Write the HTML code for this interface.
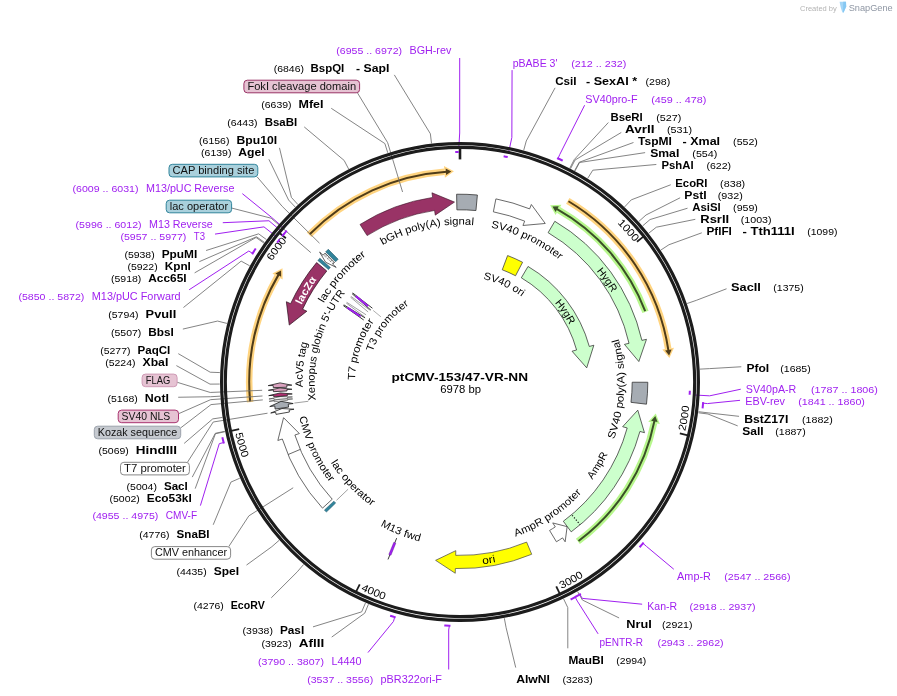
<!DOCTYPE html>
<html><head><meta charset="utf-8"><title>ptCMV-153/47-VR-NN</title>
<style>
html,body{margin:0;padding:0;background:#fff;}
body{width:897px;height:696px;overflow:hidden;}
svg{display:block;font-family:'Liberation Sans', sans-serif;will-change:transform;}
</style></head><body>
<svg width="897" height="696" viewBox="0 0 897 696">
<rect width="897" height="696" fill="#fff"/>
<defs>
<path id="p1" d="M 613 219.22 A 223.4 223.4 0 0 1 638.01 247.02"/>
<path id="p2" d="M 683.95 436.96 A 230.6 230.6 0 0 0 689.89 400.04"/>
<path id="p3" d="M 556.07 591.64 A 230.6 230.6 0 0 0 588.69 573.35"/>
<path id="p4" d="M 355.42 587.52 A 230.6 230.6 0 0 0 390.01 601.72"/>
<path id="p5" d="M 233.98 427.73 A 230.6 230.6 0 0 0 244.35 463.67"/>
<path id="p6" d="M 268.87 266.34 A 223.4 223.4 0 0 1 290.84 236.08"/>
<path id="p7" d="M 377.31 248.07 A 157.4 157.4 0 0 1 479.55 225.82"/>
<path id="p8" d="M 484.97 226.59 A 157.4 157.4 0 0 1 563.94 263.8"/>
<path id="p9" d="M 477.03 277.98 A 105.4 105.4 0 0 1 526.61 300.32"/>
<path id="p10" d="M 592.58 266.4 A 175.9 175.9 0 0 1 614.57 298.04"/>
<path id="p11" d="M 550.65 298.27 A 123.4 123.4 0 0 1 572.02 330.23"/>
<path id="p12" d="M 611.81 445.1 A 164.4 164.4 0 0 0 616.91 332.95"/>
<path id="p13" d="M 588.64 484.37 A 164.4 164.4 0 0 0 610.23 448.77"/>
<path id="p14" d="M 509.96 538.63 A 164.4 164.4 0 0 0 585.36 488.36"/>
<path id="p15" d="M 476.86 564.82 A 183.6 183.6 0 0 0 501.6 560.82"/>
<path id="p16" d="M 375.01 522.72 A 164.4 164.4 0 0 0 425.53 542.75"/>
<path id="p17" d="M 327.58 457.43 A 152.4 152.4 0 0 0 376.66 509.6"/>
<path id="p18" d="M 298.22 411.26 A 164.4 164.4 0 0 0 333.39 486.87"/>
<path id="p19" d="M 303 393.25 A 157.4 157.4 0 0 1 309.19 336.94"/>
<path id="p20" d="M 316.64 406.26 A 145.4 145.4 0 0 1 348.94 288.16"/>
<path id="p21" d="M 320.86 308.41 A 157.4 157.4 0 0 1 370.95 252.21"/>
<path id="p22" d="M 355.08 386.06 A 105 105 0 0 1 377.81 316.66"/>
<path id="p23" d="M 370.86 357.68 A 92.4 92.4 0 0 1 414.1 301.81"/>
<path id="p24" d="M 299.07 310.49 A 176.1 176.1 0 0 1 320.46 274.58"/>
</defs>
<polyline points="460,146 460,159.4" fill="none" stroke="#1e1e1e" stroke-width="2.6"/>
<polyline points="643.36,236.62 636.94,241.72" fill="none" stroke="#1e1e1e" stroke-width="1.8"/>
<text font-size="10.5" fill="#000"><textPath href="#p1" startOffset="6" textLength="25.44" lengthAdjust="spacingAndGlyphs">1000</textPath></text>
<polyline points="687.83,435.36 679.85,433.49" fill="none" stroke="#1e1e1e" stroke-width="1.8"/>
<text font-size="10.5" fill="#000"><textPath href="#p2" startOffset="6" textLength="25.44" lengthAdjust="spacingAndGlyphs">2000</textPath></text>
<polyline points="559.74,593.68 556.24,586.26" fill="none" stroke="#1e1e1e" stroke-width="1.8"/>
<text font-size="10.5" fill="#000"><textPath href="#p3" startOffset="6" textLength="25.44" lengthAdjust="spacingAndGlyphs">3000</textPath></text>
<polyline points="356.09,591.66 359.73,584.32" fill="none" stroke="#1e1e1e" stroke-width="1.8"/>
<text font-size="10.5" fill="#000"><textPath href="#p4" startOffset="6" textLength="25.44" lengthAdjust="spacingAndGlyphs">4000</textPath></text>
<polyline points="231.15,430.84 239.17,429.13" fill="none" stroke="#1e1e1e" stroke-width="1.8"/>
<text font-size="10.5" fill="#000"><textPath href="#p5" startOffset="6" textLength="25.44" lengthAdjust="spacingAndGlyphs">5000</textPath></text>
<polyline points="279.55,233.02 285.88,238.24" fill="none" stroke="#1e1e1e" stroke-width="1.8"/>
<text font-size="10.5" fill="#000"><textPath href="#p6" startOffset="6" textLength="25.44" lengthAdjust="spacingAndGlyphs">6000</textPath></text>
<path d="M 250.17 402.18 A 210.8 210.8 0 0 1 277.53 276.44" fill="none" stroke="#ffd480" stroke-width="6.6" stroke-linecap="butt"/>
<path d="M 282.64 279.4 L 282.47 268.33 L 272.43 273.49 Z" fill="#ffd480"/>
<path d="M 250.09 401.39 A 210.8 210.8 0 0 1 278.59 274.63" fill="none" stroke="#4f3c19" stroke-width="2.0"/>
<path d="M 281.13 276.82 L 281.08 270.53 L 275.44 273.48 Z" fill="#4f3c19"/>
<path d="M 309.11 234.8 A 210.8 210.8 0 0 1 444.44 171.78" fill="none" stroke="#ffd480" stroke-width="6.6" stroke-linecap="butt"/>
<path d="M 444.88 177.66 L 453.93 171.29 L 444 165.89 Z" fill="#ffd480"/>
<path d="M 309.67 234.23 A 210.8 210.8 0 0 1 446.54 171.63" fill="none" stroke="#4f3c19" stroke-width="2.0"/>
<path d="M 446.16 174.96 L 451.33 171.38 L 445.72 168.38 Z" fill="#4f3c19"/>
<path d="M 567.77 200.83 A 210.8 210.8 0 0 1 668.14 348.63" fill="none" stroke="#ffd480" stroke-width="6.6" stroke-linecap="butt"/>
<path d="M 662.32 349.56 L 669.43 358.04 L 673.97 347.7 Z" fill="#ffd480"/>
<path d="M 568.46 201.24 A 210.8 210.8 0 0 1 668.46 350.71" fill="none" stroke="#4f3c19" stroke-width="2.0"/>
<path d="M 665.11 350.61 L 669.12 355.46 L 671.64 349.61 Z" fill="#4f3c19"/>
<path d="M 558.49 209.88 A 198.3 198.3 0 0 1 645.48 311.86" fill="none" stroke="#b7f78c" stroke-width="6.6" stroke-linecap="butt"/>
<path d="M 555.55 215.01 L 550.13 205.37 L 561.42 204.76 Z" fill="#b7f78c"/>
<path d="M 556.66 208.85 A 198.3 198.3 0 0 1 645.2 311.11" fill="none" stroke="#3a4f27" stroke-width="2.0"/>
<path d="M 555.56 212.02 L 552.44 206.56 L 558.8 206.27 Z" fill="#3a4f27"/>
<path d="M 654.04 422.9 A 198.3 198.3 0 0 1 577.88 541.46" fill="none" stroke="#b7f78c" stroke-width="6.6" stroke-linecap="butt"/>
<path d="M 648.26 421.68 L 655.77 413.56 L 659.81 424.11 Z" fill="#b7f78c"/>
<path d="M 654.46 420.84 A 198.3 198.3 0 0 1 578.53 540.98" fill="none" stroke="#3a4f27" stroke-width="2.0"/>
<path d="M 651.11 420.77 L 655.34 416.12 L 657.57 422.09 Z" fill="#3a4f27"/>
<path d="M 367.09 235.59 A 173.4 173.4 0 0 1 434.55 210.48 L 435.24 215.13 L 454.49 202.08 L 431.93 192.77 L 432.62 197.42 A 186.6 186.6 0 0 0 360.02 224.45 Z" fill="#993366" stroke="#3a1226" stroke-width="0.6" stroke-linejoin="miter"/>
<path d="M 456.9 209.83 A 172.2 172.2 0 0 1 475.95 210.54 L 477.39 195.01 A 187.8 187.8 0 0 0 456.62 194.23 Z" fill="#a6acb3" stroke="#333" stroke-width="0.8"/>
<path d="M 493.36 211.84 A 173.4 173.4 0 0 1 524.69 221.12 L 522.94 225.48 L 545.26 223.47 L 531.37 204.51 L 529.62 208.87 A 186.6 186.6 0 0 0 495.9 198.89 Z" fill="#fff" stroke="#444" stroke-width="0.8" stroke-linejoin="miter"/>
<path d="M 548.12 232.66 A 173.4 173.4 0 0 1 629.03 343.31 L 624.45 344.36 L 638.83 361.54 L 646.48 339.32 L 641.9 340.37 A 186.6 186.6 0 0 0 554.82 221.29 Z" fill="#ccffcc" stroke="#222" stroke-width="0.7" stroke-linejoin="miter"/>
<path d="M 632.2 382.23 A 172.2 172.2 0 0 1 630.99 402.34 L 646.49 404.18 A 187.8 187.8 0 0 0 647.8 382.25 Z" fill="#a6acb3" stroke="#333" stroke-width="0.8"/>
<path d="M 563.33 521.25 A 173.4 173.4 0 0 0 627.2 427.96 L 622.67 426.71 L 637.78 410.17 L 644.46 432.7 L 639.93 431.45 A 186.6 186.6 0 0 1 571.2 531.85 Z" fill="#ccffcc" stroke="#222" stroke-width="0.7" stroke-linejoin="miter"/>
<path d="M 549.59 530.46 A 173.4 173.4 0 0 0 555.31 526.86 L 552.73 522.93 L 567.13 526.65 L 565.15 541.81 L 562.57 537.88 A 186.6 186.6 0 0 1 556.41 541.76 Z" fill="#fff" stroke="#444" stroke-width="0.8" stroke-linejoin="miter"/>
<polyline points="572.17,515.28 579.97,524.53" fill="none" stroke="#111" stroke-width="1.2" stroke-dasharray="1.2 1.7"/>
<path d="M 526.63 542.09 A 173.4 173.4 0 0 1 455.69 555.35 L 455.81 550.65 L 435.6 560.34 L 455.25 573.24 L 455.36 568.54 A 186.6 186.6 0 0 0 531.7 554.28 Z" fill="#ffff00" stroke="#444" stroke-width="0.7" stroke-linejoin="miter"/>
<polyline points="396.66,538.14 388.01,559.45" fill="none" stroke="#222" stroke-width="0.9"/>
<path d="M 395.79 543.18 A 173.5 173.5 0 0 1 393.77 542.36 L 388.8 554.38 A 186.5 186.5 0 0 0 390.98 555.26 Z" fill="#a020f0" stroke="#5a1090" stroke-width="0.4"/>
<path d="M 335.7 503.04 A 173.5 173.5 0 0 1 333.86 501.13 L 324.41 510.05 A 186.5 186.5 0 0 0 326.38 512.11 Z" fill="#31849b" stroke="#1f5566" stroke-width="0.5"/>
<path d="M 332.23 499.23 A 173.4 173.4 0 0 1 294.89 434.99 L 299.37 433.55 L 283.57 417.66 L 277.85 440.46 L 282.33 439.02 A 186.6 186.6 0 0 0 322.5 508.15 Z" fill="#fff" stroke="#444" stroke-width="0.8" stroke-linejoin="miter"/>
<polyline points="300.24,449.42 288.08,454.55" fill="none" stroke="#444" stroke-width="0.8"/>
<path d="M 326.78 271 A 173.4 173.4 0 0 0 302.6 309.24 L 306.87 311.21 L 289.25 325.05 L 286.36 301.73 L 290.62 303.7 A 186.6 186.6 0 0 1 316.64 262.55 Z" fill="#993366" stroke="#2a0c1b" stroke-width="0.7" stroke-linejoin="miter"/>
<polygon points="289.42,412.02 289.08,410.02 294.02,409.21 281.97,408.56 270.73,413.03 275.66,412.22 276.03,414.38" fill="#ffffff" stroke="#1c1c1c" stroke-width="0.8" stroke-linejoin="miter"/>
<polygon points="288.63,407.1 288.23,404.18 293.18,403.54 281.04,401.33 269.78,406.56 274.74,405.92 275.17,409.07" fill="#a6acb3" stroke="#1c1c1c" stroke-width="0.8" stroke-linejoin="miter"/>
<polygon points="287.77,400.29 287.68,399.45 292.66,398.95 280.81,399.07 269.18,401.33 274.15,400.82 274.24,401.73" fill="#ffffff" stroke="#1c1c1c" stroke-width="0.5" stroke-linejoin="miter"/>
<polygon points="287.58,398.43 287.48,397.38 292.46,396.94 280.6,396.65 268.96,399.03 273.94,398.59 274.04,399.72" fill="#ffffff" stroke="#1c1c1c" stroke-width="0.5" stroke-linejoin="miter"/>
<polygon points="287.35,395.79 287.24,394.32 292.23,393.96 280.33,392.93 268.69,395.64 273.67,395.28 273.79,396.87" fill="#b03070" stroke="#1c1c1c" stroke-width="0.8" stroke-linejoin="miter"/>
<polygon points="287.03,390.96 286.96,389.49 291.96,389.27 280.1,387.91 268.38,390.3 273.37,390.08 273.45,391.67" fill="#dba3c0" stroke="#1c1c1c" stroke-width="0.8" stroke-linejoin="miter"/>
<polygon points="286.88,387.22 286.83,385.26 291.83,385.17 280,382.89 268.23,385.61 273.23,385.52 273.28,387.63" fill="#dba3c0" stroke="#1c1c1c" stroke-width="0.8" stroke-linejoin="miter"/>
<path d="M 328.5 269.59 A 173 173 0 0 1 330.34 267.47 L 319.84 258.2 A 187 187 0 0 0 317.86 260.49 Z" fill="#31849b" stroke="#1f5566" stroke-width="0.6"/>
<polygon points="334.58,262.26 332.75,264.21 336.2,267.4 325.63,262.23 319.61,252.05 323.06,255.24 325.03,253.15" fill="#ffffff" stroke="#222" stroke-width="0.7" stroke-linejoin="miter"/>
<polyline points="332.64,263.45 323.86,255.27" fill="none" stroke="#222" stroke-width="0.8" stroke-dasharray="1 1.2"/>
<polyline points="333.5,262.53 324.77,254.29" fill="none" stroke="#222" stroke-width="0.8" stroke-dasharray="1 1.2"/>
<path d="M 335.73 261.64 A 173 173 0 0 1 338.14 259.2 L 328.28 249.27 A 187 187 0 0 0 325.67 251.9 Z" fill="#31849b" stroke="#1f5566" stroke-width="0.6"/>
<path d="M 502.26 269.79 A 119.9 119.9 0 0 1 515.55 275.75 L 522.59 262.28 A 135.1 135.1 0 0 0 507.61 255.57 Z" fill="#ffff00" stroke="#444" stroke-width="0.8"/>
<path d="M 521.34 277.82 A 120.9 120.9 0 0 1 576.58 349.98 L 572.05 351.22 L 586.71 367.85 L 593.84 345.24 L 589.31 346.48 A 134.1 134.1 0 0 0 528.04 266.44 Z" fill="#ccffcc" stroke="#222" stroke-width="0.7" stroke-linejoin="miter"/>
<polyline points="364.62,316.86 346.23,303.02" fill="none" stroke="#555" stroke-width="0.55"/>
<polyline points="366.05,314.81 346.74,302.29" fill="none" stroke="#555" stroke-width="0.55"/>
<polyline points="363.74,320 343.3,305.58" fill="none" stroke="#111" stroke-width="0.85"/>
<polyline points="365.1,317.93 343.79,304.82" fill="none" stroke="#111" stroke-width="0.85"/>
<polyline points="360.66,316.48 347.3,307.68" fill="none" stroke="#a020f0" stroke-width="2"/>
<polyline points="368.15,311.97 350.5,297.19" fill="none" stroke="#555" stroke-width="0.55"/>
<polyline points="369.69,310 351.06,296.48" fill="none" stroke="#555" stroke-width="0.55"/>
<polyline points="370.86,310.14 352.06,293.63" fill="none" stroke="#111" stroke-width="0.85"/>
<polyline points="372.43,308.23 352.64,292.93" fill="none" stroke="#111" stroke-width="0.85"/>
<polyline points="368.17,306.32 355.82,296.14" fill="none" stroke="#a020f0" stroke-width="2"/>
<polyline points="373.18,310.45 380.9,316.81" fill="none" stroke="#777" stroke-width="0.6"/>
<polyline points="294.33,403.07 308.22,401.3" fill="none" stroke="#777" stroke-width="0.7"/>
<polyline points="336.53,500.3 348.08,489.23" fill="none" stroke="#777" stroke-width="0.7"/>
<text font-size="10.5" fill="#000"><textPath href="#p7" startOffset="6" textLength="94.67" lengthAdjust="spacingAndGlyphs">bGH poly(A) signal</textPath></text>
<text font-size="10.5" fill="#000"><textPath href="#p8" startOffset="6" textLength="76.46" lengthAdjust="spacingAndGlyphs">SV40 promoter</textPath></text>
<text font-size="10.5" fill="#000"><textPath href="#p9" startOffset="6" textLength="43" lengthAdjust="spacingAndGlyphs">SV40 ori</textPath></text>
<text font-size="10.5" fill="#000"><textPath href="#p10" startOffset="6" textLength="26.61" lengthAdjust="spacingAndGlyphs">HygR</textPath></text>
<text font-size="10.5" fill="#000"><textPath href="#p11" startOffset="6" textLength="26.61" lengthAdjust="spacingAndGlyphs">HygR</textPath></text>
<text font-size="10.5" fill="#000"><textPath href="#p12" startOffset="6" textLength="102.57" lengthAdjust="spacingAndGlyphs">SV40 poly(A) signal</textPath></text>
<text font-size="10.5" fill="#000"><textPath href="#p13" startOffset="6" textLength="29.75" lengthAdjust="spacingAndGlyphs">AmpR</textPath></text>
<text font-size="10.5" fill="#000"><textPath href="#p14" startOffset="6" textLength="79.81" lengthAdjust="spacingAndGlyphs">AmpR promoter</textPath></text>
<text font-size="10.5" fill="#000"><textPath href="#p15" startOffset="6" textLength="13.08" lengthAdjust="spacingAndGlyphs">ori</textPath></text>
<text font-size="10.5" fill="#000"><textPath href="#p16" startOffset="6" textLength="42.6" lengthAdjust="spacingAndGlyphs">M13 fwd</textPath></text>
<text font-size="10.5" fill="#000"><textPath href="#p17" startOffset="6" textLength="60.3" lengthAdjust="spacingAndGlyphs">lac operator</textPath></text>
<text font-size="10.5" fill="#000"><textPath href="#p18" startOffset="6" textLength="72.31" lengthAdjust="spacingAndGlyphs">CMV promoter</textPath></text>
<text font-size="10.5" fill="#000"><textPath href="#p19" startOffset="6" textLength="44.95" lengthAdjust="spacingAndGlyphs">AcV5 tag</textPath></text>
<text font-size="10.5" fill="#000"><textPath href="#p20" startOffset="6" textLength="114.38" lengthAdjust="spacingAndGlyphs">Xenopus globin 5'-UTR</textPath></text>
<text font-size="10.5" fill="#000"><textPath href="#p21" startOffset="6" textLength="64.02" lengthAdjust="spacingAndGlyphs">lac promoter</textPath></text>
<text font-size="10.5" fill="#000"><textPath href="#p22" startOffset="6" textLength="62.58" lengthAdjust="spacingAndGlyphs">T7 promoter</textPath></text>
<text font-size="10.5" fill="#000"><textPath href="#p23" startOffset="6" textLength="60.5" lengthAdjust="spacingAndGlyphs">T3 promoter</textPath></text>
<text font-size="10.5" font-weight="bold" fill="#fff"><textPath href="#p24" startOffset="6" textLength="29.89" lengthAdjust="spacingAndGlyphs">lacZα</textPath></text>
<text x="391.5" y="381.2" font-size="11.55" font-weight="bold" fill="#000" textLength="136.5" lengthAdjust="spacingAndGlyphs">ptCMV-153/47-VR-NN</text>
<text x="440.2" y="393.2" font-size="10.5" fill="#000" textLength="40.8" lengthAdjust="spacingAndGlyphs">6978 bp</text>
<text x="555.2" y="84.8" font-size="10.5" font-weight="bold" fill="#000" textLength="21.4" lengthAdjust="spacingAndGlyphs">CsiI</text>
<text x="586" y="84.8" font-size="10.5" font-weight="bold" fill="#000" textLength="51.1" lengthAdjust="spacingAndGlyphs">- SexAI *</text>
<text x="645.5" y="84.8" font-size="8.93" fill="#000" textLength="24.7" lengthAdjust="spacingAndGlyphs">(298)</text>
<polyline points="555.08,87.83 526.28,140.95 523.71,150.3" fill="none" stroke="#6e6e6e" stroke-width="0.85"/>
<text x="610.4" y="120.9" font-size="10.5" font-weight="bold" fill="#000" textLength="32.4" lengthAdjust="spacingAndGlyphs">BseRI</text>
<text x="656.2" y="120.9" font-size="8.93" fill="#000" textLength="25.1" lengthAdjust="spacingAndGlyphs">(527)</text>
<polyline points="608.33,122.54 574.23,159.62 569.8,168.25" fill="none" stroke="#6e6e6e" stroke-width="0.85"/>
<text x="625.1" y="133" font-size="10.5" font-weight="bold" fill="#000" textLength="29.4" lengthAdjust="spacingAndGlyphs">AvrII</text>
<text x="666.9" y="133" font-size="8.93" fill="#000" textLength="25.1" lengthAdjust="spacingAndGlyphs">(531)</text>
<polyline points="621.27,132.47 575.03,160.04 570.57,168.65" fill="none" stroke="#6e6e6e" stroke-width="0.85"/>
<text x="638.1" y="144.7" font-size="10.5" font-weight="bold" fill="#000" textLength="33.8" lengthAdjust="spacingAndGlyphs">TspMI</text>
<text x="682.6" y="144.7" font-size="10.5" font-weight="bold" fill="#000" textLength="37.5" lengthAdjust="spacingAndGlyphs">- XmaI</text>
<text x="733.1" y="144.7" font-size="8.93" fill="#000" textLength="24.8" lengthAdjust="spacingAndGlyphs">(552)</text>
<polyline points="633.48,142.51 579.21,162.25 574.58,170.78" fill="none" stroke="#6e6e6e" stroke-width="0.85"/>
<text x="650.2" y="156.7" font-size="10.5" font-weight="bold" fill="#000" textLength="29.1" lengthAdjust="spacingAndGlyphs">SmaI</text>
<text x="692.3" y="156.7" font-size="8.93" fill="#000" textLength="25.1" lengthAdjust="spacingAndGlyphs">(554)</text>
<polyline points="645.11,152.64 579.6,162.47 574.96,170.98" fill="none" stroke="#6e6e6e" stroke-width="0.85"/>
<text x="661.5" y="169.1" font-size="10.5" font-weight="bold" fill="#000" textLength="32.1" lengthAdjust="spacingAndGlyphs">PshAI</text>
<text x="706.4" y="169.1" font-size="8.93" fill="#000" textLength="24.7" lengthAdjust="spacingAndGlyphs">(622)</text>
<polyline points="656.34,164.47 592.81,170.2 587.66,178.41" fill="none" stroke="#6e6e6e" stroke-width="0.85"/>
<text x="675.3" y="186.8" font-size="10.5" font-weight="bold" fill="#000" textLength="32.1" lengthAdjust="spacingAndGlyphs">EcoRI</text>
<text x="720.1" y="186.8" font-size="8.93" fill="#000" textLength="25.1" lengthAdjust="spacingAndGlyphs">(838)</text>
<polyline points="670.74,184.76 631.24,199.86 624.6,206.92" fill="none" stroke="#6e6e6e" stroke-width="0.85"/>
<text x="684.3" y="198.9" font-size="10.5" font-weight="bold" fill="#000" textLength="22.4" lengthAdjust="spacingAndGlyphs">PstI</text>
<text x="717.7" y="198.9" font-size="8.93" fill="#000" textLength="25.1" lengthAdjust="spacingAndGlyphs">(932)</text>
<polyline points="680.14,197.77 646.03,214.99 638.81,221.47" fill="none" stroke="#6e6e6e" stroke-width="0.85"/>
<text x="692.3" y="210.9" font-size="10.5" font-weight="bold" fill="#000" textLength="28.4" lengthAdjust="spacingAndGlyphs">AsiSI</text>
<text x="733.1" y="210.9" font-size="8.93" fill="#000" textLength="24.8" lengthAdjust="spacingAndGlyphs">(959)</text>
<polyline points="687.52,208.21 650.03,219.56 642.66,225.86" fill="none" stroke="#6e6e6e" stroke-width="0.85"/>
<text x="700.3" y="222.9" font-size="10.5" font-weight="bold" fill="#000" textLength="28.8" lengthAdjust="spacingAndGlyphs">RsrII</text>
<text x="740.8" y="222.9" font-size="8.93" fill="#000" textLength="30.8" lengthAdjust="spacingAndGlyphs">(1003)</text>
<polyline points="695.29,219.32 656.32,227.21 648.7,233.22" fill="none" stroke="#6e6e6e" stroke-width="0.85"/>
<text x="706.4" y="235" font-size="10.5" font-weight="bold" fill="#000" textLength="25.5" lengthAdjust="spacingAndGlyphs">PflFI</text>
<text x="742.5" y="235" font-size="10.5" font-weight="bold" fill="#000" textLength="52.2" lengthAdjust="spacingAndGlyphs">- Tth111I</text>
<text x="807.3" y="235" font-size="8.93" fill="#000" textLength="30.1" lengthAdjust="spacingAndGlyphs">(1099)</text>
<polyline points="701.78,232.81 668.95,244.74 660.84,250.06" fill="none" stroke="#6e6e6e" stroke-width="0.85"/>
<text x="731.1" y="290.8" font-size="10.5" font-weight="bold" fill="#000" textLength="29.8" lengthAdjust="spacingAndGlyphs">SacII</text>
<text x="773.3" y="290.8" font-size="8.93" fill="#000" textLength="30.4" lengthAdjust="spacingAndGlyphs">(1375)</text>
<polyline points="726.54,288.77 696.29,300.35 687.12,303.52" fill="none" stroke="#6e6e6e" stroke-width="0.85"/>
<text x="746.5" y="371.7" font-size="10.5" font-weight="bold" fill="#000" textLength="22.7" lengthAdjust="spacingAndGlyphs">PfoI</text>
<text x="780.3" y="371.7" font-size="8.93" fill="#000" textLength="30.4" lengthAdjust="spacingAndGlyphs">(1685)</text>
<polyline points="741.32,366.76 709.64,368.61 699.96,369.13" fill="none" stroke="#6e6e6e" stroke-width="0.85"/>
<text x="744.2" y="422.9" font-size="10.5" font-weight="bold" fill="#000" textLength="44.1" lengthAdjust="spacingAndGlyphs">BstZ17I</text>
<text x="802" y="422.9" font-size="8.93" fill="#000" textLength="30.8" lengthAdjust="spacingAndGlyphs">(1882)</text>
<polyline points="739.06,416.33 708.09,412.87 698.46,411.68" fill="none" stroke="#6e6e6e" stroke-width="0.85"/>
<text x="742.2" y="435" font-size="10.5" font-weight="bold" fill="#000" textLength="21.4" lengthAdjust="spacingAndGlyphs">SalI</text>
<text x="775.3" y="435" font-size="8.93" fill="#000" textLength="30.4" lengthAdjust="spacingAndGlyphs">(1887)</text>
<polyline points="737.69,425.9 707.94,413.99 698.32,412.75" fill="none" stroke="#6e6e6e" stroke-width="0.85"/>
<text x="626.3" y="627.7" font-size="10.5" font-weight="bold" fill="#000" textLength="25.4" lengthAdjust="spacingAndGlyphs">NruI</text>
<text x="662" y="627.7" font-size="8.93" fill="#000" textLength="30.5" lengthAdjust="spacingAndGlyphs">(2921)</text>
<polyline points="619.08,617.94 582.36,600.01 577.61,591.55" fill="none" stroke="#6e6e6e" stroke-width="0.85"/>
<text x="568.4" y="663.5" font-size="10.5" font-weight="bold" fill="#000" textLength="35.4" lengthAdjust="spacingAndGlyphs">MauBI</text>
<text x="616.2" y="663.5" font-size="8.93" fill="#000" textLength="30.1" lengthAdjust="spacingAndGlyphs">(2994)</text>
<polyline points="567.8,648.3 567.78,607.58 563.59,598.82" fill="none" stroke="#6e6e6e" stroke-width="0.85"/>
<text x="516.2" y="682.5" font-size="10.5" font-weight="bold" fill="#000" textLength="33.8" lengthAdjust="spacingAndGlyphs">AlwNI</text>
<text x="562.4" y="682.5" font-size="8.93" fill="#000" textLength="30.4" lengthAdjust="spacingAndGlyphs">(3283)</text>
<polyline points="515.72,667.57 506.11,627.71 504.32,618.18" fill="none" stroke="#6e6e6e" stroke-width="0.85"/>
<text x="273.7" y="71.8" font-size="8.93" fill="#000" textLength="30.3" lengthAdjust="spacingAndGlyphs">(6846)</text>
<text x="310.5" y="71.8" font-size="10.5" font-weight="bold" fill="#000" textLength="33.8" lengthAdjust="spacingAndGlyphs">BspQI</text>
<text x="356" y="71.8" font-size="10.5" font-weight="bold" fill="#000" textLength="33.4" lengthAdjust="spacingAndGlyphs">- SapI</text>
<polyline points="394.34,74.89 430.36,133.76 431.51,143.4" fill="none" stroke="#6e6e6e" stroke-width="0.85"/>
<text x="261.3" y="107.9" font-size="8.93" fill="#000" textLength="30.3" lengthAdjust="spacingAndGlyphs">(6639)</text>
<text x="298.5" y="107.9" font-size="10.5" font-weight="bold" fill="#000" textLength="25" lengthAdjust="spacingAndGlyphs">MfeI</text>
<polyline points="331.24,108.29 384.87,143.56 387.78,152.81" fill="none" stroke="#6e6e6e" stroke-width="0.85"/>
<text x="227.2" y="125.7" font-size="8.93" fill="#000" textLength="30.3" lengthAdjust="spacingAndGlyphs">(6443)</text>
<text x="264.7" y="125.7" font-size="10.5" font-weight="bold" fill="#000" textLength="32.4" lengthAdjust="spacingAndGlyphs">BsaBI</text>
<polyline points="304.22,126.92 344.17,160.45 348.67,169.05" fill="none" stroke="#6e6e6e" stroke-width="0.85"/>
<text x="199.1" y="143.7" font-size="8.93" fill="#000" textLength="30.3" lengthAdjust="spacingAndGlyphs">(6156)</text>
<text x="236.6" y="143.7" font-size="10.5" font-weight="bold" fill="#000" textLength="40.5" lengthAdjust="spacingAndGlyphs">Bpu10I</text>
<polyline points="279.48,147.85 291.4,197.41 297.94,204.57" fill="none" stroke="#6e6e6e" stroke-width="0.85"/>
<text x="201.1" y="155.8" font-size="8.93" fill="#000" textLength="30.3" lengthAdjust="spacingAndGlyphs">(6139)</text>
<text x="238.3" y="155.8" font-size="10.5" font-weight="bold" fill="#000" textLength="26.4" lengthAdjust="spacingAndGlyphs">AgeI</text>
<polyline points="268.88,159.31 288.59,200.01 295.24,207.07" fill="none" stroke="#6e6e6e" stroke-width="0.85"/>
<text x="124.4" y="257.7" font-size="8.93" fill="#000" textLength="30.3" lengthAdjust="spacingAndGlyphs">(5938)</text>
<text x="161.7" y="257.7" font-size="10.5" font-weight="bold" fill="#000" textLength="35.6" lengthAdjust="spacingAndGlyphs">PpuMI</text>
<polyline points="206.08,250.51 258.64,233.84 266.45,239.58" fill="none" stroke="#6e6e6e" stroke-width="0.85"/>
<text x="127.4" y="269.7" font-size="8.93" fill="#000" textLength="30.3" lengthAdjust="spacingAndGlyphs">(5922)</text>
<text x="164.7" y="269.7" font-size="10.5" font-weight="bold" fill="#000" textLength="26.2" lengthAdjust="spacingAndGlyphs">KpnI</text>
<polyline points="199.36,261.65 256.52,236.75 264.42,242.39" fill="none" stroke="#6e6e6e" stroke-width="0.85"/>
<text x="111" y="281.8" font-size="8.93" fill="#000" textLength="30.3" lengthAdjust="spacingAndGlyphs">(5918)</text>
<text x="148.3" y="281.8" font-size="10.5" font-weight="bold" fill="#000" textLength="38.3" lengthAdjust="spacingAndGlyphs">Acc65I</text>
<polyline points="194.61,272.86 256,237.49 263.92,243.09" fill="none" stroke="#6e6e6e" stroke-width="0.85"/>
<text x="108.3" y="317.6" font-size="8.93" fill="#000" textLength="30.3" lengthAdjust="spacingAndGlyphs">(5794)</text>
<text x="145.6" y="317.6" font-size="10.5" font-weight="bold" fill="#000" textLength="30.6" lengthAdjust="spacingAndGlyphs">PvuII</text>
<polyline points="183.44,307.52 241.17,261.12 249.66,265.81" fill="none" stroke="#6e6e6e" stroke-width="0.85"/>
<text x="111" y="335.6" font-size="8.93" fill="#000" textLength="30.3" lengthAdjust="spacingAndGlyphs">(5507)</text>
<text x="148.3" y="335.6" font-size="10.5" font-weight="bold" fill="#000" textLength="25.6" lengthAdjust="spacingAndGlyphs">BbsI</text>
<polyline points="182.87,329.09 217.54,321.05 226.95,323.42" fill="none" stroke="#6e6e6e" stroke-width="0.85"/>
<text x="100.2" y="353.7" font-size="8.93" fill="#000" textLength="30.3" lengthAdjust="spacingAndGlyphs">(5277)</text>
<text x="137.5" y="353.7" font-size="10.5" font-weight="bold" fill="#000" textLength="32.8" lengthAdjust="spacingAndGlyphs">PaqCI</text>
<polyline points="178.29,353.67 210.19,372.21 219.88,372.59" fill="none" stroke="#6e6e6e" stroke-width="0.85"/>
<text x="105.2" y="365.8" font-size="8.93" fill="#000" textLength="30.3" lengthAdjust="spacingAndGlyphs">(5224)</text>
<text x="142.5" y="365.8" font-size="10.5" font-weight="bold" fill="#000" textLength="25.8" lengthAdjust="spacingAndGlyphs">XbaI</text>
<polyline points="176.39,365.6 210.01,384.14 219.71,384.06" fill="none" stroke="#6e6e6e" stroke-width="0.85"/>
<text x="107.5" y="401.9" font-size="8.93" fill="#000" textLength="30.3" lengthAdjust="spacingAndGlyphs">(5168)</text>
<text x="144.8" y="401.9" font-size="10.5" font-weight="bold" fill="#000" textLength="24.2" lengthAdjust="spacingAndGlyphs">NotI</text>
<polyline points="178.2,397.26 210.43,396.74 220.12,396.16" fill="none" stroke="#6e6e6e" stroke-width="0.85"/>
<text x="98.5" y="453.7" font-size="8.93" fill="#000" textLength="30.3" lengthAdjust="spacingAndGlyphs">(5069)</text>
<text x="135.8" y="453.7" font-size="10.5" font-weight="bold" fill="#000" textLength="41.3" lengthAdjust="spacingAndGlyphs">HindIII</text>
<polyline points="184.16,443.41 212.74,418.89 222.33,417.46" fill="none" stroke="#6e6e6e" stroke-width="0.85"/>
<text x="126.6" y="489.5" font-size="8.93" fill="#000" textLength="30.3" lengthAdjust="spacingAndGlyphs">(5004)</text>
<text x="163.9" y="489.5" font-size="10.5" font-weight="bold" fill="#000" textLength="23.9" lengthAdjust="spacingAndGlyphs">SacI</text>
<polyline points="192.25,477.12 215.32,433.3 224.81,431.3" fill="none" stroke="#6e6e6e" stroke-width="0.85"/>
<text x="109.5" y="501.5" font-size="8.93" fill="#000" textLength="30.3" lengthAdjust="spacingAndGlyphs">(5002)</text>
<text x="146.8" y="501.5" font-size="10.5" font-weight="bold" fill="#000" textLength="45" lengthAdjust="spacingAndGlyphs">Eco53kI</text>
<polyline points="195.18,488.65 215.41,433.74 224.9,431.73" fill="none" stroke="#6e6e6e" stroke-width="0.85"/>
<text x="139.3" y="537.5" font-size="8.93" fill="#000" textLength="30.3" lengthAdjust="spacingAndGlyphs">(4776)</text>
<text x="176.6" y="537.5" font-size="10.5" font-weight="bold" fill="#000" textLength="32.9" lengthAdjust="spacingAndGlyphs">SnaBI</text>
<polyline points="213.21,524.78 230.91,482.1 239.8,478.21" fill="none" stroke="#6e6e6e" stroke-width="0.85"/>
<text x="176.4" y="574.8" font-size="8.93" fill="#000" textLength="30.3" lengthAdjust="spacingAndGlyphs">(4435)</text>
<text x="213.7" y="574.8" font-size="10.5" font-weight="bold" fill="#000" textLength="25.3" lengthAdjust="spacingAndGlyphs">SpeI</text>
<polyline points="246.5,565.07 271.88,546.66 279.18,540.27" fill="none" stroke="#6e6e6e" stroke-width="0.85"/>
<text x="193.5" y="608.6" font-size="8.93" fill="#000" textLength="30.3" lengthAdjust="spacingAndGlyphs">(4276)</text>
<text x="230.8" y="608.6" font-size="10.5" font-weight="bold" fill="#000" textLength="33.9" lengthAdjust="spacingAndGlyphs">EcoRV</text>
<polyline points="271.29,597.81 297.3,571.81 303.61,564.45" fill="none" stroke="#6e6e6e" stroke-width="0.85"/>
<text x="242.6" y="634" font-size="8.93" fill="#000" textLength="30.3" lengthAdjust="spacingAndGlyphs">(3938)</text>
<text x="279.9" y="634" font-size="10.5" font-weight="bold" fill="#000" textLength="24.3" lengthAdjust="spacingAndGlyphs">PasI</text>
<polyline points="313,626.87 361.66,611.85 365.47,602.93" fill="none" stroke="#6e6e6e" stroke-width="0.85"/>
<text x="261.4" y="646.8" font-size="8.93" fill="#000" textLength="30.3" lengthAdjust="spacingAndGlyphs">(3923)</text>
<text x="298.7" y="646.8" font-size="10.5" font-weight="bold" fill="#000" textLength="25.5" lengthAdjust="spacingAndGlyphs">AflII</text>
<polyline points="331.71,637.08 364.77,613.15 368.47,604.18" fill="none" stroke="#6e6e6e" stroke-width="0.85"/>
<text x="512.7" y="67.1" font-size="10.5" fill="#a020f0" textLength="44.8" lengthAdjust="spacingAndGlyphs">pBABE 3'</text>
<text x="571.2" y="67.1" font-size="8.93" fill="#a020f0" textLength="55.2" lengthAdjust="spacingAndGlyphs">(212 .. 232)</text>
<polyline points="512.07,70.1 511.85,137.44 508.42,153.58" fill="none" stroke="#a020f0" stroke-width="1"/>
<text x="585.3" y="102.9" font-size="10.5" fill="#a020f0" textLength="52.2" lengthAdjust="spacingAndGlyphs">SV40pro-F</text>
<text x="651.2" y="102.9" font-size="8.93" fill="#a020f0" textLength="55.2" lengthAdjust="spacingAndGlyphs">(459 .. 478)</text>
<polyline points="584.61,105.22 559.81,154.42 557.76,159.09" fill="none" stroke="#a020f0" stroke-width="1"/>
<text x="745.8" y="392.5" font-size="10.5" fill="#a020f0" textLength="50.5" lengthAdjust="spacingAndGlyphs">SV40pA-R</text>
<text x="811" y="392.5" font-size="8.93" fill="#a020f0" textLength="66.9" lengthAdjust="spacingAndGlyphs">(1787 .. 1806)</text>
<polyline points="740.78,389.21 709.62,395.84 693.14,394.92" fill="none" stroke="#a020f0" stroke-width="1"/>
<text x="745.2" y="404.5" font-size="10.5" fill="#a020f0" textLength="39.8" lengthAdjust="spacingAndGlyphs">EBV-rev</text>
<text x="798.3" y="404.5" font-size="8.93" fill="#a020f0" textLength="66.6" lengthAdjust="spacingAndGlyphs">(1841 .. 1860)</text>
<polyline points="740.04,400.32 707.56,403.57 702.48,403.12" fill="none" stroke="#a020f0" stroke-width="1"/>
<text x="677.1" y="579.5" font-size="10.5" fill="#a020f0" textLength="33.8" lengthAdjust="spacingAndGlyphs">Amp-R</text>
<text x="724.3" y="579.5" font-size="8.93" fill="#a020f0" textLength="66.3" lengthAdjust="spacingAndGlyphs">(2547 .. 2566)</text>
<polyline points="673.81,569.24 646.4,546.34 642.57,542.97" fill="none" stroke="#a020f0" stroke-width="1"/>
<text x="647.3" y="610" font-size="10.5" fill="#a020f0" textLength="29.8" lengthAdjust="spacingAndGlyphs">Kan-R</text>
<text x="689.5" y="610" font-size="8.93" fill="#a020f0" textLength="66.1" lengthAdjust="spacingAndGlyphs">(2918 .. 2937)</text>
<polyline points="642.14,604.21 582.21,598.37 579.7,593.93" fill="none" stroke="#a020f0" stroke-width="1"/>
<text x="599.5" y="645.8" font-size="10.5" fill="#a020f0" textLength="43.5" lengthAdjust="spacingAndGlyphs">pENTR-R</text>
<text x="657.4" y="645.8" font-size="8.93" fill="#a020f0" textLength="66.2" lengthAdjust="spacingAndGlyphs">(2943 .. 2962)</text>
<polyline points="598.11,633.87 577.31,601.07 574.9,596.57" fill="none" stroke="#a020f0" stroke-width="1"/>
<text x="336.3" y="54.1" font-size="8.93" fill="#a020f0" textLength="65.8" lengthAdjust="spacingAndGlyphs">(6955 .. 6972)</text>
<text x="409.5" y="54.1" font-size="10.5" fill="#a020f0" textLength="41.8" lengthAdjust="spacingAndGlyphs">BGH-rev</text>
<polyline points="459.7,58 459.7,133 458.74,148.5" fill="none" stroke="#a020f0" stroke-width="1"/>
<text x="72.5" y="192.1" font-size="8.93" fill="#a020f0" textLength="66" lengthAdjust="spacingAndGlyphs">(6009 .. 6031)</text>
<text x="146" y="192.1" font-size="10.5" fill="#a020f0" textLength="88.4" lengthAdjust="spacingAndGlyphs">M13/pUC Reverse</text>
<polyline points="242.35,193.65 271.73,217.51 284.16,228.37" fill="none" stroke="#a020f0" stroke-width="1"/>
<text x="75.6" y="227.6" font-size="8.93" fill="#a020f0" textLength="66" lengthAdjust="spacingAndGlyphs">(5996 .. 6012)</text>
<text x="149" y="227.6" font-size="10.5" fill="#a020f0" textLength="63.7" lengthAdjust="spacingAndGlyphs">M13 Reverse</text>
<polyline points="222.79,222.7 268.95,220.76 281.56,231.4" fill="none" stroke="#a020f0" stroke-width="1"/>
<text x="120.4" y="240" font-size="8.93" fill="#a020f0" textLength="66" lengthAdjust="spacingAndGlyphs">(5957 .. 5977)</text>
<text x="193.8" y="240" font-size="10.5" fill="#a020f0" textLength="11.2" lengthAdjust="spacingAndGlyphs">T3</text>
<polyline points="215,234.1 263.96,226.86 276.9,237.1" fill="none" stroke="#a020f0" stroke-width="1"/>
<text x="18.4" y="299.5" font-size="8.93" fill="#a020f0" textLength="66" lengthAdjust="spacingAndGlyphs">(5850 .. 5872)</text>
<text x="91.8" y="299.5" font-size="10.5" fill="#a020f0" textLength="88.8" lengthAdjust="spacingAndGlyphs">M13/pUC Forward</text>
<polyline points="189.15,289.77 248.81,251.03 253.15,253.72" fill="none" stroke="#a020f0" stroke-width="1"/>
<text x="92.4" y="519.3" font-size="8.93" fill="#a020f0" textLength="66" lengthAdjust="spacingAndGlyphs">(4955 .. 4975)</text>
<text x="165.8" y="519.3" font-size="10.5" fill="#a020f0" textLength="31.3" lengthAdjust="spacingAndGlyphs">CMV-F</text>
<polyline points="200.4,505.62 219.27,443.67 224.21,442.4" fill="none" stroke="#a020f0" stroke-width="1"/>
<text x="258" y="664.5" font-size="8.93" fill="#a020f0" textLength="66" lengthAdjust="spacingAndGlyphs">(3790 .. 3807)</text>
<text x="331.4" y="664.5" font-size="10.5" fill="#a020f0" textLength="30" lengthAdjust="spacingAndGlyphs">L4440</text>
<polyline points="367.98,652.57 393.47,621.43 394.84,616.51" fill="none" stroke="#a020f0" stroke-width="1"/>
<text x="307.2" y="682.5" font-size="8.93" fill="#a020f0" textLength="66" lengthAdjust="spacingAndGlyphs">(3537 .. 3556)</text>
<text x="380.6" y="682.5" font-size="10.5" fill="#a020f0" textLength="61.4" lengthAdjust="spacingAndGlyphs">pBR322ori-F</text>
<polyline points="448.7,669.5 448.7,630 449.48,625.17" fill="none" stroke="#a020f0" stroke-width="1"/>
<polyline points="357.42,92.8 387.66,142.69 402.57,191.99" fill="none" stroke="#6e6e6e" stroke-width="0.85"/>
<rect x="243.9" y="80.2" width="115.7" height="12.6" rx="3.4" ry="3.4" fill="#e6c3d3" stroke="#993366" stroke-width="1"/>
<text x="247.4" y="89.8" font-size="10.5" fill="#111" textLength="108.7" lengthAdjust="spacingAndGlyphs">FokI cleavage domain</text>
<polyline points="257.16,176.9 282.15,206.3 319.5,243.2" fill="none" stroke="#6e6e6e" stroke-width="0.85"/>
<rect x="169" y="164.3" width="88.8" height="12.6" rx="3.4" ry="3.4" fill="#a9d0dc" stroke="#31849b" stroke-width="1"/>
<text x="172.5" y="173.9" font-size="10.5" fill="#111" textLength="81.8" lengthAdjust="spacingAndGlyphs">CAP binding site</text>
<polyline points="231.6,208.04 271.14,218.19 310.8,252.59" fill="none" stroke="#6e6e6e" stroke-width="0.85"/>
<rect x="166.2" y="200.2" width="65.4" height="12.6" rx="3.4" ry="3.4" fill="#a9d0dc" stroke="#31849b" stroke-width="1"/>
<text x="169.7" y="209.8" font-size="10.5" fill="#111" textLength="58.4" lengthAdjust="spacingAndGlyphs">lac operator</text>
<polyline points="177.1,382.25 210.22,392.46 262.17,390.29" fill="none" stroke="#6e6e6e" stroke-width="0.85"/>
<rect x="142.1" y="374.1" width="35" height="12.6" rx="3.4" ry="3.4" fill="#e6c3d3" stroke="#cf9bb6" stroke-width="1"/>
<text x="145.8" y="383.7" font-size="10.5" fill="#111" textLength="24.5" lengthAdjust="spacingAndGlyphs">FLAG</text>
<polyline points="178.5,413.76 210.62,399.66 262.49,395.98" fill="none" stroke="#6e6e6e" stroke-width="0.85"/>
<rect x="118.2" y="410.1" width="60.3" height="12.6" rx="3.4" ry="3.4" fill="#e6c3d3" stroke="#a8326f" stroke-width="1"/>
<text x="121.6" y="419.7" font-size="10.5" fill="#111" textLength="48.7" lengthAdjust="spacingAndGlyphs">SV40 NLS</text>
<polyline points="180.7,427.89 211.02,404.59 262.81,399.89" fill="none" stroke="#6e6e6e" stroke-width="0.85"/>
<rect x="94.3" y="426.2" width="86.4" height="12.6" rx="3.4" ry="3.4" fill="#c6cad0" stroke="#9aa1aa" stroke-width="1"/>
<text x="97.8" y="435.8" font-size="10.5" fill="#111" textLength="79.4" lengthAdjust="spacingAndGlyphs">Kozak sequence</text>
<polyline points="187.43,462.3 213.22,422.01 267.51,413.21" fill="none" stroke="#6e6e6e" stroke-width="0.85"/>
<rect x="120.5" y="462.3" width="68.9" height="12.6" rx="3.4" ry="3.4" fill="#ffffff" stroke="#888" stroke-width="1"/>
<text x="124" y="471.9" font-size="10.5" fill="#111" textLength="61.9" lengthAdjust="spacingAndGlyphs">T7 promoter</text>
<polyline points="228.73,546.6 248.86,515.86 293.2,487.75" fill="none" stroke="#6e6e6e" stroke-width="0.85"/>
<rect x="151.4" y="546.6" width="79.2" height="12.6" rx="3.4" ry="3.4" fill="#ffffff" stroke="#888" stroke-width="1"/>
<text x="154.9" y="556.2" font-size="10.5" fill="#111" textLength="72.2" lengthAdjust="spacingAndGlyphs">CMV enhancer</text>
<circle cx="460" cy="382" r="238.4" fill="none" stroke="#1c1c1c" stroke-width="3.2"/>
<circle cx="460" cy="382" r="234.65" fill="none" stroke="#1c1c1c" stroke-width="3.1"/>
<path d="M 503.64 156.18 A 230 230 0 0 1 507.7 157" fill="none" stroke="#a020f0" stroke-width="2.0" stroke-linecap="butt"/>
<path d="M 558 158.54 A 244 244 0 0 1 561.81 160.25" fill="none" stroke="#a020f0" stroke-width="2.0" stroke-linecap="square"/>
<path d="M 689.83 390.8 A 230 230 0 0 1 689.65 394.73" fill="none" stroke="#a020f0" stroke-width="2.0" stroke-linecap="butt"/>
<path d="M 703.08 403.17 A 244 244 0 0 1 702.68 407.33" fill="none" stroke="#a020f0" stroke-width="2.0" stroke-linecap="square"/>
<path d="M 643.02 543.37 A 244 244 0 0 1 640.24 546.47" fill="none" stroke="#a020f0" stroke-width="2.0" stroke-linecap="square"/>
<path d="M 580 594.45 A 244 244 0 0 1 576.34 596.48" fill="none" stroke="#a020f0" stroke-width="2.0" stroke-linecap="square"/>
<path d="M 575.18 597.1 A 244 244 0 0 1 571.49 599.04" fill="none" stroke="#a020f0" stroke-width="2.0" stroke-linecap="square"/>
<path d="M 455.24 152.05 A 230 230 0 0 1 458.76 152" fill="none" stroke="#a020f0" stroke-width="2.0" stroke-linecap="butt"/>
<path d="M 283.83 234.13 A 230 230 0 0 1 286.8 230.67" fill="none" stroke="#a020f0" stroke-width="2.0" stroke-linecap="butt"/>
<path d="M 282.11 236.2 A 230 230 0 0 1 284.23 233.66" fill="none" stroke="#a020f0" stroke-width="2.0" stroke-linecap="butt"/>
<path d="M 277.1 242.54 A 230 230 0 0 1 279.65 239.27" fill="none" stroke="#a020f0" stroke-width="2.0" stroke-linecap="butt"/>
<path d="M 252.64 253.4 A 244 244 0 0 1 255.23 249.32" fill="none" stroke="#a020f0" stroke-width="2.0" stroke-linecap="square"/>
<path d="M 223.63 442.55 A 244 244 0 0 1 222.58 438.28" fill="none" stroke="#a020f0" stroke-width="2.0" stroke-linecap="square"/>
<path d="M 394.68 617.09 A 244 244 0 0 1 391.08 616.07" fill="none" stroke="#a020f0" stroke-width="2.0" stroke-linecap="square"/>
<path d="M 449.46 625.77 A 244 244 0 0 1 445.29 625.56" fill="none" stroke="#a020f0" stroke-width="2.0" stroke-linecap="square"/>
<text x="800" y="10.8" font-size="7.4" fill="#b3b3b3" textLength="36.8" lengthAdjust="spacingAndGlyphs">Created by</text>
<path d="M 839.6 1.8 L 846.0 1.8 L 846.2 6.6 L 843.6 12.6 L 842.4 12.6 L 840.6 7 Z" fill="#a4d6f7"/>
<path d="M 843.2 1.8 L 846.0 1.8 L 846.2 6.6 L 843.6 12.6 L 843.0 12.6 Z" fill="#86c8f3"/>
<text x="848.7" y="11.0" font-size="9.5" fill="#8e96a3" textLength="44" lengthAdjust="spacingAndGlyphs">SnapGene</text>
</svg>
</body></html>
